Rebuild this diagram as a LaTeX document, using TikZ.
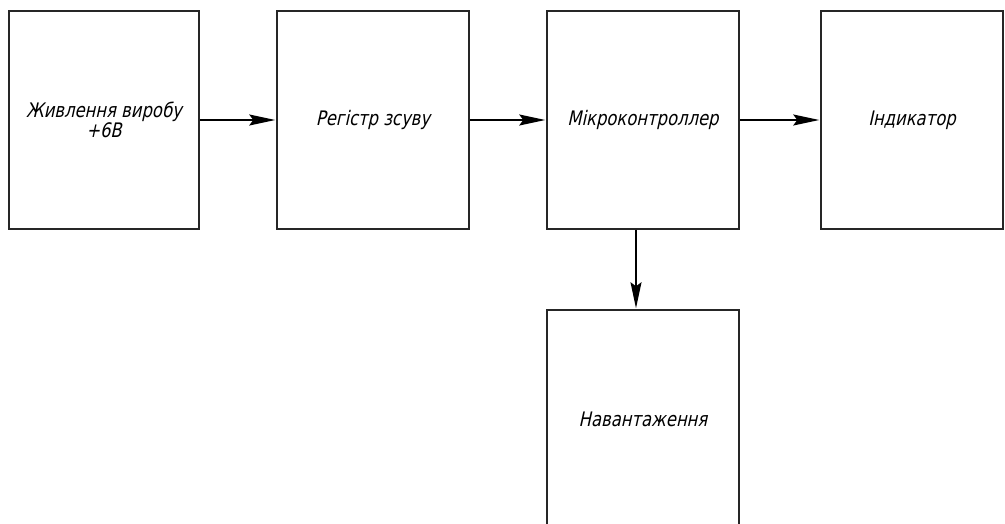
\documentclass[tikz,border=0pt]{standalone}
\usepackage{fontspec}
\newfontfamily\gost[FakeSlant=0.22,FakeStretch=0.82]{DejaVu Sans}
\usetikzlibrary{arrows.meta}
\tikzset{
  blk/.style={draw=black!85, line width=1.5pt, fill=white, align=center, inner sep=0pt,
    font=\gost\fontsize{20}{20}\selectfont},
  conn/.style={line width=1.5pt, -{Stealth[length=26pt,width=11pt,inset=4pt]}, shorten >=1pt}
}
\begin{document}
\begin{tikzpicture}[x=1pt,y=-1pt]
\clip (0,0) rectangle (1005,524);
\fill[white] (0,0) rectangle (1005,524);
\node[blk, minimum width=190pt, minimum height=218pt] (b1) at (104,120) {Живлення виробу\\+6В};
\node[blk, minimum width=192pt, minimum height=218pt] (b2) at (373,120) {Регістр зсуву};
\node[blk, minimum width=192pt, minimum height=218pt] (b3) at (643,120) {Мікроконтроллер};
\node[blk, minimum width=182pt, minimum height=218pt] (b4) at (912,120) {Індикатор};
\node[blk, minimum width=192pt, minimum height=218pt] (b5) at (643,419) {Навантаження};
\draw[conn] (b1.east) -- (b2.west);
\draw[conn] (b2.east) -- (b3.west);
\draw[conn] (b3.east) -- (b4.west);
\draw[conn] ([xshift=-7pt]b3.south) -- ([xshift=-7pt]b5.north);
\end{tikzpicture}
\end{document}
